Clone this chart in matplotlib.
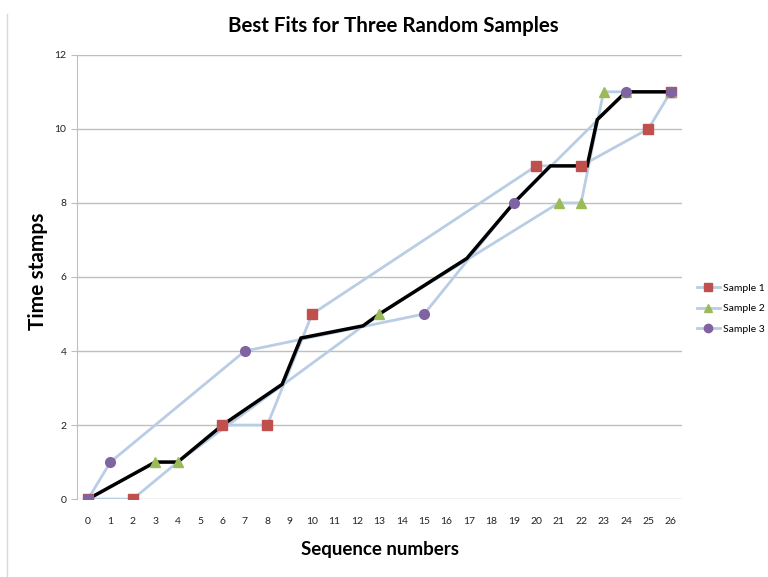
import matplotlib
matplotlib.use("Agg")
import matplotlib.pyplot as plt
from matplotlib.lines import Line2D

# sample points (sequence number, time stamp)
s1_x = [0, 2, 6, 8, 10, 20, 22, 25, 26]
s1_y = [0, 0, 2, 2, 5, 9, 9, 10, 11]
s2_x = [0, 3, 4, 13, 21, 22, 23, 24, 26]
s2_y = [0, 1, 1, 5, 8, 8, 11, 11, 11]
s3_x = [0, 1, 7, 15, 19, 24, 26]
s3_y = [0, 1, 4, 5, 8, 11, 11]

# best-fit curve
fit_x = [0, 3, 4, 6, 8.66, 9.5, 12.27, 13, 16.9, 19, 20.63, 22.27, 22.72, 24, 26]
fit_y = [0, 1, 1, 2, 3.1, 4.35, 4.68, 5, 6.5, 8, 9, 9, 10.25, 11, 11]

labels = ["Sample 1", "Sample 2", "Sample 3"]
marker_colors = ["#C0504D", "#9BBB59", "#8064A2"]
markers = ["s", "^", "o"]
line_color = "#B9CDE5"

plt.rcParams["font.family"] = ["Lato", "DejaVu Sans"]

fig = plt.figure(figsize=(7.68, 5.77), dpi=100)
ax = fig.add_axes([0.100, 0.135, 0.788, 0.770])

for xs, ys in [(s1_x, s1_y), (s2_x, s2_y), (s3_x, s3_y)]:
    ax.plot(xs, ys, color=line_color, lw=2, zorder=2)

ax.plot(fit_x, fit_y, color="black", lw=2.5, zorder=3, solid_joinstyle="miter")

for xs, ys, m, c in zip([s1_x, s2_x, s3_x], [s1_y, s2_y, s3_y], markers, marker_colors):
    ax.plot(xs, ys, linestyle="none", marker=m, color=c, markersize=7, zorder=4)

ax.set_xlim(-0.5, 26.5)
ax.set_ylim(0, 12)
ax.set_xticks(range(27))
ax.set_yticks(range(0, 13, 2))
ax.grid(axis="y", color="#BFBFBF", lw=1)
ax.set_axisbelow(True)
for side in ["top", "right", "bottom"]:
    ax.spines[side].set_visible(False)
ax.spines["left"].set_color("#BFBFBF")
ax.tick_params(axis="y", length=4, color="#BFBFBF", labelsize=7.5, labelcolor="#222222")
ax.tick_params(axis="x", length=0, labelsize=7.5, labelcolor="#222222", pad=13)

fig.text(0.512, 0.955, "Best Fits for Three Random Samples", ha="center", va="center",
         fontsize=14.8, fontweight="bold")
fig.text(0.495, 0.048, "Sequence numbers", ha="center", va="center",
         fontsize=13.5, fontweight="bold")
fig.text(0.050, 0.53, "Time stamps", ha="center", va="center", rotation=90,
         fontsize=15, fontweight="bold")

handles = [Line2D([], [], color=line_color, lw=2, marker=m, markerfacecolor=c,
                  markeredgecolor=c, markersize=6)
           for m, c in zip(markers, marker_colors)]
fig.legend(handles, labels, loc="center left", bbox_to_anchor=(0.895, 0.465),
           frameon=False, fontsize=7.5, handlelength=2.2, labelspacing=1.1,
           handletextpad=0.3)

# chart area border (left edge only visible)
fig.add_artist(Line2D([0.009, 0.009], [0.0, 0.975], color="#D9D9D9", lw=1,
                      transform=fig.transFigure))

fig.savefig("out.png", dpi=100)
